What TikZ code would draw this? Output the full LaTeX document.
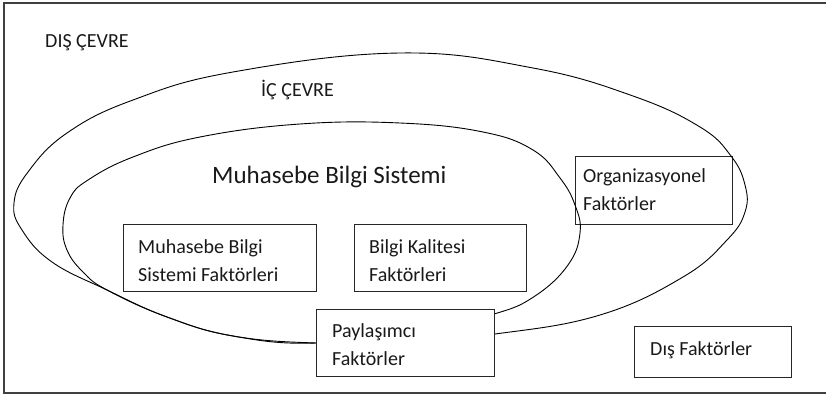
\documentclass[tikz,border=0pt]{standalone}
\usepackage{fontspec}
\setmainfont{Carlito}
\begin{document}
\begin{tikzpicture}[x=1pt,y=-1pt,
  curve/.style={draw=black, line width=0.9pt},
  frame/.style={draw=black!75, line width=1.6pt},
  boxr/.style={draw=black!85, line width=1.1pt, inner sep=0pt, anchor=north west},
  txt/.style={font=\fontsize{20}{28}\selectfont, align=left, inner sep=0pt, anchor=base west, text=black!90},
  big/.style={font=\fontsize{25}{30}\selectfont, inner sep=0pt, anchor=base west, text=black!90},
]
\useasboundingbox (0,0) rectangle (826,395);
\draw[frame] (4,3) rectangle (840,393);

% Organizasyonel box (curves pass over it)
\node[boxr, minimum width=157pt, minimum height=68pt] (orgb) at (575,156) {};

% outer curve (ic cevre)
\draw[curve] plot[smooth cycle, tension=0.7] coordinates {
 (400,53) (533,68) (633,96) (700,127) (731,156) (745,185) (745,212) (727,240)
 (683,277) (600,315) (495,334) (400,342) (316,343) (233,336) (167,317) (107,290)
 (52,262) (22,230) (14,203) (28,172) (67,133) (133,100) (233,72)};

% inner curve (muhasebe bilgi sistemi)
\draw[curve] plot[smooth cycle, tension=0.7] coordinates {
 (400,123) (483,132) (533,150) (560,178) (575,205) (580,233) (568,265) (535,296)
 (494,314) (420,330) (316,343) (233,336) (167,317) (107,290) (83,272) (67,250)
 (63,225) (70,198) (88,180) (133,157) (200,137) (300,124)};

% boxes
\node[boxr, fill=white, minimum width=178pt, minimum height=67pt] (payb) at (316,309) {};
\node[boxr, minimum width=193pt, minimum height=67pt] (mbsb) at (123,224) {};
\node[boxr, minimum width=172pt, minimum height=67pt] (bkb) at (354,224) {};
\node[boxr, minimum width=157pt, minimum height=51pt] (disb) at (634,326) {};

% texts (base anchor = last line of the node)
\node[txt] (dis) at (45,48) {DIŞ ÇEVRE};
\node[txt] (ic) at (261,97) {İÇ ÇEVRE};
\node[big] (mbs) at (212,184) {Muhasebe Bilgi Sistemi};
\node[txt] (mbst) at (138,281) {Muhasebe Bilgi\\Sistemi Faktörleri};
\node[txt] (bkt) at (369,281) {Bilgi Kalitesi\\Faktörleri};
\node[txt] (payt) at (332,365) {Paylaşımcı\\Faktörler};
\node[txt] (orgt) at (583,211) {Organizasyonel\\Faktörler};
\node[txt] (dist) at (650,355) {Dış Faktörler};
\end{tikzpicture}
\end{document}
